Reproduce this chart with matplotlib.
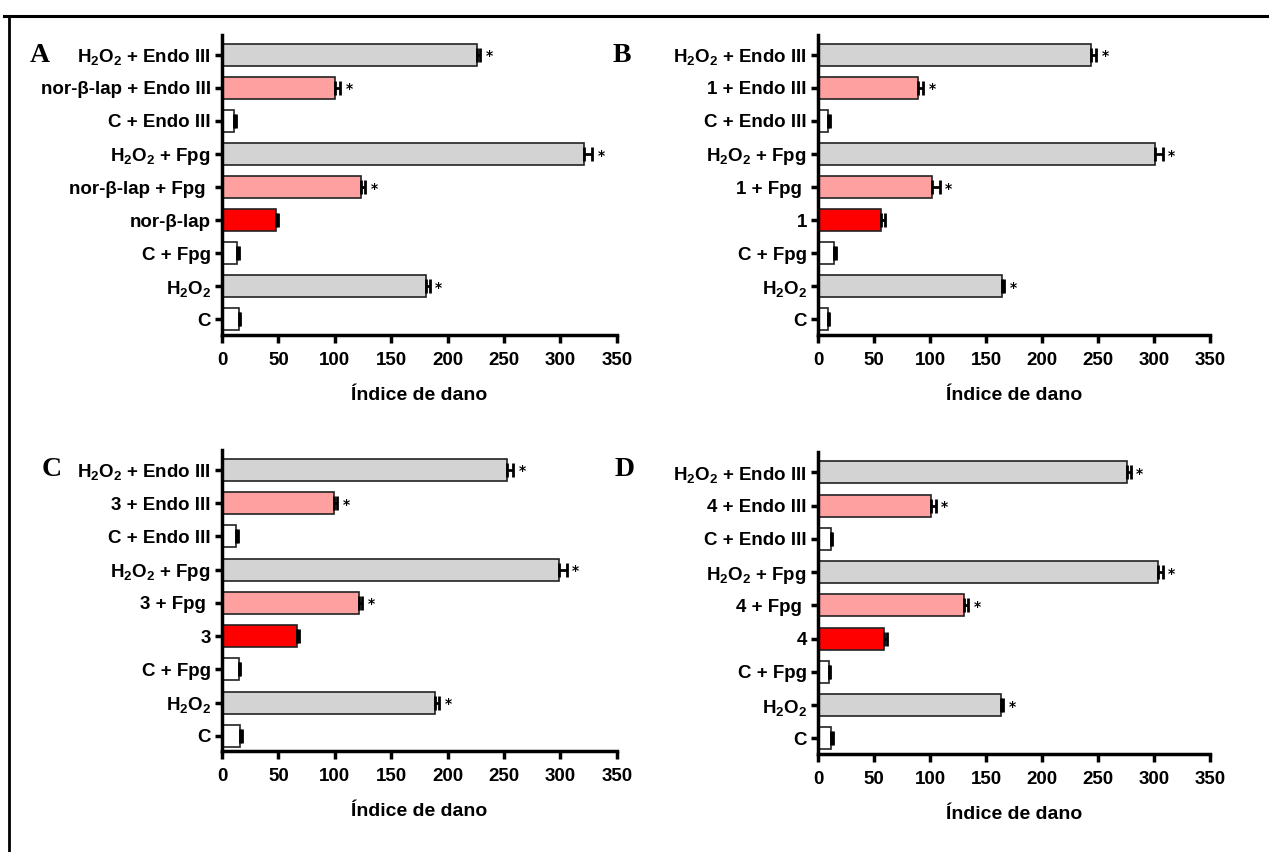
import matplotlib
matplotlib.use('Agg')
import matplotlib.pyplot as plt
from matplotlib.lines import Line2D

plt.rcParams['font.family'] = ['Liberation Sans', 'DejaVu Sans']
plt.rcParams['font.weight'] = 'bold'
plt.rcParams['mathtext.fontset'] = 'custom'
plt.rcParams['mathtext.rm'] = 'Liberation Sans:bold'
plt.rcParams['mathtext.it'] = 'Liberation Sans:bold'
plt.rcParams['mathtext.bf'] = 'Liberation Sans:bold'
plt.rcParams['mathtext.default'] = 'rm'

# bars listed from bottom to top of each panel
h2o2 = r'H$_2$O$_2$'
compounds = ['nor-\u03b2-lap', '1', '3', '4']
panel_letters = ['A', 'B', 'C', 'D']

vals_A = [15, 181, 13, 48, 123.5, 321, 10.5, 100.5, 226.5]
errs_A = [1, 3, 2, 1.5, 3, 7.5, 2, 4.5, 2]
vals_B = [8.5, 164, 14.5, 56.5, 102, 300.5, 8.5, 89, 243.5]
errs_B = [1, 2, 2, 3.5, 6.5, 7, 2, 4.5, 4.5]
vals_C = [16, 189, 15, 66.5, 121, 298.5, 12.5, 99, 253]
errs_C = [2, 3.5, 1, 1.5, 3, 7, 2, 3, 5]
vals_D = [11.5, 163, 9.5, 58.5, 130.5, 303.5, 11.5, 101, 276]
errs_D = [2, 2, 1, 3.5, 3.5, 4, 1, 4, 3]

colors = ['white', '#d3d3d3', 'white', '#ff0000', '#ffa0a0', '#d3d3d3', 'white', '#ffa0a0', '#d3d3d3']
stars = [False, True, False, False, True, True, False, True, True]
xticks = [0, 50, 100, 150, 200, 250, 300, 350]


def make_labels(cpd):
    return ['C', h2o2, 'C + Fpg', cpd, cpd + ' + Fpg ', h2o2 + ' + Fpg',
            'C + Endo III', cpd + ' + Endo III', h2o2 + ' + Endo III']


fig = plt.figure(figsize=(12.69, 8.52), dpi=100)

# page frame lines (top and left)
fig.add_artist(Line2D([4 / 1269, 1], [1 - 16 / 852, 1 - 16 / 852], color='black', lw=2.2))
fig.add_artist(Line2D([9 / 1269, 9 / 1269], [0, 1 - 16 / 852], color='black', lw=2.0))

boxes = [[0.175, 0.607, 0.311, 0.352], [0.6446, 0.607, 0.309, 0.352],
         [0.175, 0.118, 0.311, 0.354], [0.6446, 0.115, 0.309, 0.354]]
letter_pos = [(40, 56), (622, 56), (52, 470), (625, 470)]
all_vals = [vals_A, vals_B, vals_C, vals_D]
all_errs = [errs_A, errs_B, errs_C, errs_D]

for i in range(4):
    ax = fig.add_axes(boxes[i])
    vals = all_vals[i]
    errs = all_errs[i]
    pos = list(range(len(vals)))
    ax.barh(pos, vals, height=0.66, color=colors, edgecolor='#222222', linewidth=1.2, zorder=2)
    ax.errorbar(vals, pos, xerr=[[0] * len(vals), errs], fmt='none', ecolor='black',
                elinewidth=2, capsize=5, capthick=2, zorder=3)
    for p, v, e, s in zip(pos, vals, errs, stars):
        if s:
            ax.text(v + e + 5, p - 0.05, '*', ha='left', va='center', fontsize=10,
                    fontweight='bold', family='DejaVu Sans')
    ax.set_xlim(0, 350)
    ax.set_ylim(-0.47, 8.6)
    ax.set_xticks(xticks)
    ax.set_yticks(pos)
    ax.set_yticklabels(make_labels(compounds[i]))
    ax.spines['top'].set_visible(False)
    ax.spines['right'].set_visible(False)
    ax.spines['left'].set_linewidth(2.5)
    ax.spines['bottom'].set_linewidth(2.5)
    ax.tick_params(axis='y', length=5, width=2.5, pad=3, labelsize=13.5)
    ax.tick_params(axis='x', length=6, width=2.5, pad=6, labelsize=13.5)
    ax.set_xlabel('\u00cdndice de dano', fontsize=14, fontweight='bold', labelpad=13)
    lx, ly = letter_pos[i]
    fig.text(lx / 1269, 1 - ly / 852, panel_letters[i], family='Liberation Serif',
             fontweight='bold', fontsize=20, ha='center', va='center')

fig.savefig('out.png', dpi=100)
